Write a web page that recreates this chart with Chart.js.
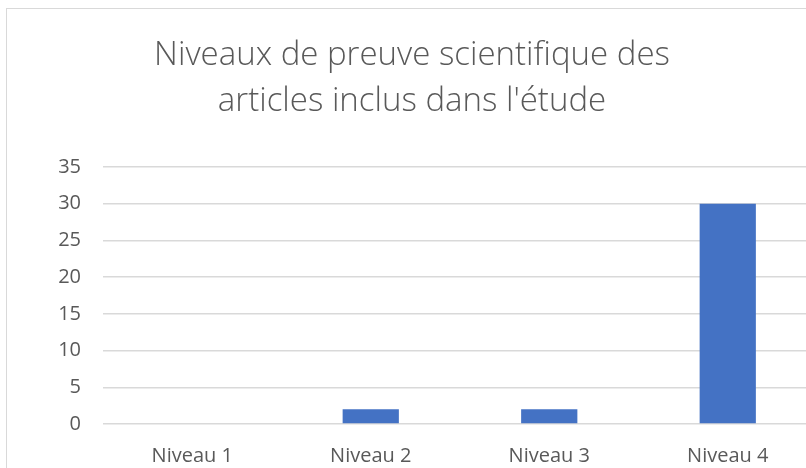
<!DOCTYPE html>
<html><head><meta charset="utf-8">
<script src="https://cdn.jsdelivr.net/npm/chart.js@4.4.1/dist/chart.umd.min.js"></script>
<style>
html,body{margin:0;padding:0;width:806px;height:468px;overflow:hidden;background:#fff;}
#box{position:absolute;left:6px;top:8px;width:812px;height:470px;border:1px solid #d9d9d9;background:#fff;}
canvas{display:block;}
</style></head><body>
<div id="box"><canvas id="c" width="812" height="460"></canvas></div>
<script>
const categories = ["Niveau 1","Niveau 2","Niveau 3","Niveau 4"];
const values = [0, 2, 2, 30];
const titleLines = ["Niveaux de preuve scientifique des","articles inclus dans l'étude"];
const yMax = 35, yStep = 5;

new Chart(document.getElementById('c'), {
  type: 'bar',
  data: { labels: categories, datasets: [{ data: values, backgroundColor: '#4472c4', categoryPercentage: 1, barPercentage: 0.315 }] },
  options: {
    responsive: false, animation: false,
    layout: { padding: { left: 0, right: 2, top: 0, bottom: 0 } },
    plugins: {
      legend: { display: false }, tooltip: { enabled: false },
      title: { display: true, text: titleLines, color: '#595959',
        font: { family: "'Open Sans', sans-serif", size: 33, weight: '300', lineHeight: 1.394 },
        padding: { top: 24, bottom: 42 } }
    },
    scales: {
      x: { grid: { display: false, drawTicks: false }, border: { display: false },
        afterFit: s => { s.height = 45; },
        ticks: { color: '#595959', font: { family: "'Open Sans', sans-serif", size: 20 }, padding: 20 } },
      y: { min: 0, max: yMax, afterFit: s => { s.width = 96; },
        grid: { color: '#d9d9d9', lineWidth: 1.5, drawTicks: false }, border: { display: false },
        ticks: { stepSize: yStep, color: '#595959', font: { family: "'Open Sans', sans-serif", size: 20 }, padding: 22 } }
    }
  }
});
</script></body></html>
